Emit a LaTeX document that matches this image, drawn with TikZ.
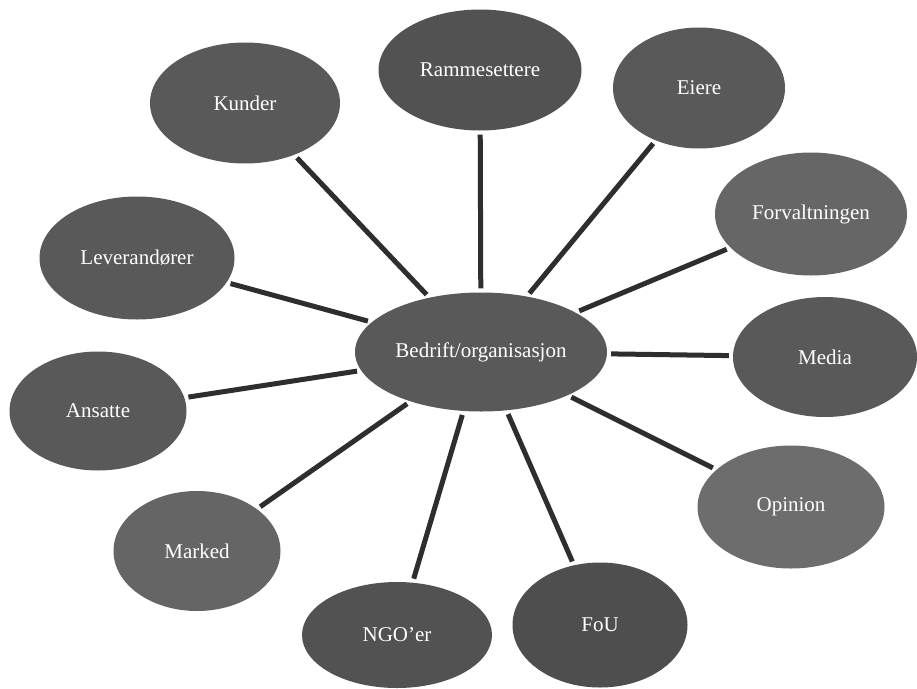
\documentclass[tikz,border=0pt]{standalone}
\usepackage{fontspec}
\setmainfont{Liberation Serif}
\usetikzlibrary{shapes.geometric}
\definecolor{ellfill}{HTML}{595959}
\definecolor{linecol}{HTML}{2E2E2E}
\tikzset{
  party/.style={ellipse, draw=none, fill=ellfill, inner sep=0pt,
    text=white, font=\fontsize{21}{24}\selectfont},
  tie/.style={draw=linecol, line width=5pt, shorten >=4pt, shorten <=4pt}
}
\begin{document}
\begin{tikzpicture}[x=1pt, y=-1pt]
\useasboundingbox (0,0) rectangle (917,688);
\fill[white] (0,0) rectangle (917,688);

\node[party, minimum width=252pt, minimum height=119pt] (center) at (481,352) {Bedrift/organisasjon};

\node[party, minimum width=190pt, minimum height=121pt] (kunder) at (245,103) {Kunder};
\node[party, minimum width=203pt, minimum height=121pt, fill=ellfill!92!black] (ramme) at (480,70) {Rammesettere};
\node[party, minimum width=172pt, minimum height=121pt] (eiere) at (699,88) {Eiere};
\node[party, minimum width=192pt, minimum height=123pt, fill=ellfill!92!white] (forv) at (811,214) {Forvaltningen};
\node[party, minimum width=195pt, minimum height=123pt] (lev) at (137,258) {Leverandører};
\node[party, minimum width=184pt, minimum height=120pt] (media) at (825,357) {Media};
\node[party, minimum width=177pt, minimum height=119pt] (ansatte) at (98,411) {Ansatte};
\node[party, minimum width=187pt, minimum height=123pt, fill=ellfill!88!white] (opinion) at (791,507) {Opinion};
\node[party, minimum width=167pt, minimum height=120pt, fill=ellfill!93!white] (marked) at (197,551) {Marked};
\node[party, minimum width=175pt, minimum height=125pt, fill=ellfill!88!black] (fou) at (600,625) {FoU};
\node[party, minimum width=190pt, minimum height=106pt, fill=ellfill!92!black] (ngo) at (397,635) {NGO'er};

\draw[tie] (center) -- (kunder);
\draw[tie] (center) -- (ramme);
\draw[tie] (center) -- (eiere);
\draw[tie] (center) -- (forv);
\draw[tie] (center) -- (lev);
\draw[tie] (center) -- (media);
\draw[tie] (center) -- (ansatte);
\draw[tie] (center) -- (opinion);
\draw[tie] (center) -- (marked);
\draw[tie] (center) -- (fou);
\draw[tie] (center) -- (ngo);
\end{tikzpicture}
\end{document}
